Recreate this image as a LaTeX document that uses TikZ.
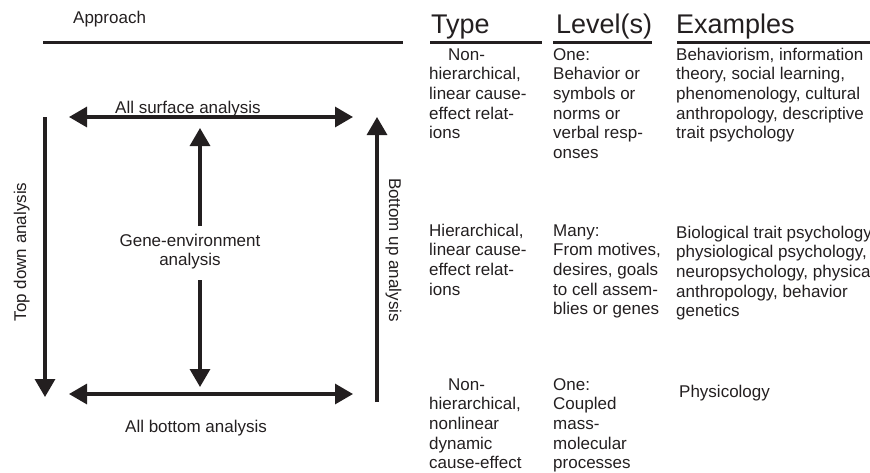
\documentclass[tikz,border=0pt]{standalone}
\usepackage{fontspec}
\setmainfont{Liberation Sans}
\usetikzlibrary{arrows.meta}
\definecolor{ink}{HTML}{231F20}
\begin{document}
\begin{tikzpicture}[x=1pt,y=-1pt,
  ln/.style={line width=3.2pt, draw=ink},
  rule/.style={line width=3pt, draw=ink},
  arr/.style={ln, -{Triangle[length=18pt,width=20pt]}},
  darr/.style={ln, {Triangle[length=18pt,width=20pt]}-{Triangle[length=18pt,width=20pt]}},
  txt/.style={font=\fontsize{17}{19.7}\selectfont, text=ink, inner sep=0pt, align=left, anchor=base west},
  ctxt/.style={font=\fontsize{17}{19}\selectfont, text=ink, inner sep=0pt, align=center, anchor=base},
  head/.style={font=\fontsize{27}{30}\selectfont, text=ink, inner sep=0pt, anchor=base west},
]
\useasboundingbox (0,0) rectangle (870,472);

% title and rules
\node[txt] (approach) at (73,23) {Approach};
\coordinate (r0a) at (43,42);  \coordinate (r0b) at (403,42);
\draw[rule] (r0a) -- (r0b);

\node[head] (htype) at (431,33) {Type};
\node[head] (hlevel) at (556,33) {Level(s)};
\node[head] (hex) at (676,33) {Examples};
\coordinate (r1a) at (430,42);  \coordinate (r1b) at (542,42);
\coordinate (r2a) at (553,42);  \coordinate (r2b) at (652,42);
\coordinate (r3a) at (677,42);  \coordinate (r3b) at (870,42);
\draw[rule] (r1a) -- (r1b);
\draw[rule] (r2a) -- (r2b);
\draw[rule] (r3a) -- (r3b);

% left diagram
\coordinate (tl) at (69,117);   \coordinate (tr) at (353,117);
\coordinate (bl) at (69,394);   \coordinate (br) at (353,394);
\coordinate (lt) at (45,117);   \coordinate (lb) at (45,397);
\coordinate (rt) at (377,117);  \coordinate (rb) at (377,402);
\coordinate (mu1) at (200,226); \coordinate (mu2) at (200,128);
\coordinate (md1) at (200,280); \coordinate (md2) at (200,387);

\draw[darr] (tl) -- (tr);
\draw[darr] (bl) -- (br);
\draw[arr] (lt) -- (lb);
\draw[arr] (rb) -- (rt);
\draw[arr] (mu1) -- (mu2);
\draw[arr] (md1) -- (md2);

\node[txt] (surf) at (115,113) {All surface analysis};
\node[txt] (bott) at (125,432) {All bottom analysis};
% base anchor of a multi-line node = baseline of its last line
\node[ctxt] (gene) at (190,265) {Gene-environment\\analysis};
\node[ctxt, rotate=90] (topdown) at (26,252) {Top down analysis};
\node[ctxt, rotate=-90] (bottomup) at (389,250) {Bottom up analysis};

% table rows (anchored at the baseline of the last line)
\node[txt] (t1) at (429,138.8) {\hspace*{19pt}Non-\\hierarchical,\\linear cause-\\effect relat-\\ions};
\node[txt] (l1) at (553,158.5) {One:\\Behavior or\\symbols or\\norms or\\verbal resp-\\onses};
\node[txt] (e1) at (676,138.8) {Behaviorism, information\\theory, social learning,\\phenomenology, cultural\\anthropology, descriptive\\trait psychology};

\node[txt] (t2) at (429,295.1) {Hierarchical,\\linear cause-\\effect relat-\\ions};
\node[txt] (l2) at (553,314.8) {Many:\\From motives,\\desires, goals\\to cell assem-\\blies or genes};
\node[txt] (e2) at (676,316.8) {Biological trait psychology\\physiological psychology,\\neuropsychology, physica\\anthropology, behavior\\genetics};

\node[txt] (t3) at (429,468.8) {\hspace*{19pt}Non-\\hierarchical,\\nonlinear\\dynamic\\cause-effect};
\node[txt] (l3) at (553,468.8) {One:\\Coupled\\mass-\\molecular\\processes};
\node[txt] (e3) at (679,397) {Physicology};
\end{tikzpicture}
\end{document}
